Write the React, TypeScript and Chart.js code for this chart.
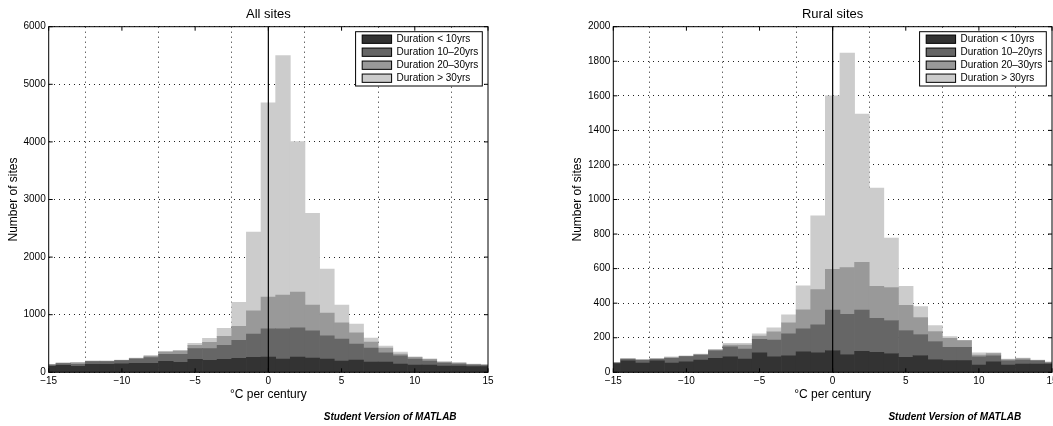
import React, { useEffect, useRef } from 'react';
import { Chart, registerables } from 'chart.js';

Chart.register(...registerables);

// ---------- data ----------
const bins = [-15, -14, -13, -12, -11, -10, -9, -8, -7, -6, -5, -4, -3, -2, -1, 0, 1, 2, 3, 4, 5, 6, 7, 8, 9, 10, 11, 12, 13, 14, 15];

const seriesLabels = ['Duration < 10yrs', 'Duration 10\u201320yrs', 'Duration 20\u201330yrs', 'Duration > 30yrs'];
const seriesColors = ['#333333', '#666666', '#999999', '#cccccc'];

// All sites (stacked segments)
const allUnder10 = [104, 121, 104, 139, 139, 145, 156, 156, 191, 173, 225, 208, 225, 243, 260, 266, 230, 264, 247, 230, 195, 213, 178, 178, 144, 126, 126, 109, 109, 98, 98];
const all10to20 = [21, 29, 35, 46, 46, 57, 75, 98, 121, 139, 185, 202, 243, 312, 404, 489, 525, 506, 473, 403, 383, 278, 244, 160, 142, 105, 69, 52, 35, 28, 23];
const all20to30 = [10, 8, 26, 7, 7, 6, 11, 23, 41, 58, 58, 110, 156, 243, 403, 551, 585, 623, 447, 396, 280, 194, 104, 84, 32, 29, 29, 17, 16, 12, 7];
const allOver30 = [4, 4, 8, 5, 5, 6, 7, 18, 11, 12, 35, 70, 139, 416, 1369, 3372, 4160, 2612, 1595, 761, 310, 153, 69, 34, 32, 10, 11, 2, 8, 6, 5];

// Rural sites (stacked segments)
const ruralUnder10 = [50, 66, 54, 66, 54, 60, 71, 81, 89, 77, 112, 89, 95, 118, 112, 126, 103, 121, 115, 109, 86, 97, 74, 68, 68, 42, 60, 42, 48, 48, 48];
const rural10to20 = [4, 9, 15, 9, 27, 31, 29, 43, 58, 58, 79, 98, 127, 133, 162, 234, 232, 239, 197, 191, 156, 122, 104, 76, 76, 47, 35, 24, 23, 18, 6];
const rural20to30 = [2, 3, 3, 3, 4, 2, 3, 4, 11, 23, 19, 47, 64, 110, 204, 236, 271, 276, 185, 191, 145, 98, 58, 52, 39, 11, 13, 8, 9, 3, 4];
const ruralOver30 = [2, 3, 3, 3, 4, 2, 3, 5, 10, 10, 12, 23, 46, 139, 427, 1004, 1242, 858, 569, 286, 110, 64, 35, 11, 1, 12, 4, 3, 3, 2, 2];

const xMin = -15;
const xMax = 15;
const xStep = 5;
const zeroValue = 0;

const allYMax = 6000;
const allYStep = 1000;
const ruralYMax = 2000;
const ruralYStep = 200;

const xTitle = '\u00B0C per century';
const yTitle = 'Number of sites';
const watermark = 'Student Version of MATLAB';

const FONT = '"Liberation Sans", Arial, Helvetica, sans-serif';

// ---------- plugin for MATLAB look ----------
const matlabPlugin = {
  id: 'matlabLook',
  afterDraw(chart: any) {
    const { ctx, chartArea: a, scales } = chart;
    const xs = scales.x;
    const ys = scales.y;
    ctx.save();
    // zero line
    const x0 = xs.getPixelForValue(zeroValue);
    ctx.strokeStyle = '#000';
    ctx.lineWidth = 1.2;
    ctx.beginPath();
    ctx.moveTo(x0, a.top);
    ctx.lineTo(x0, a.bottom);
    ctx.stroke();

    // axes box
    ctx.lineWidth = 1;
    ctx.strokeRect(a.left, a.top, a.right - a.left, a.bottom - a.top);

    // inner ticks
    const tl = 4;
    ctx.beginPath();
    xs.ticks.forEach((t: any) => {
      const p = xs.getPixelForValue(t.value);
      ctx.moveTo(p, a.bottom);
      ctx.lineTo(p, a.bottom - tl);
      ctx.moveTo(p, a.top);
      ctx.lineTo(p, a.top + tl);
    });
    ys.ticks.forEach((t: any) => {
      const p = ys.getPixelForValue(t.value);
      ctx.moveTo(a.left, p);
      ctx.lineTo(a.left + tl, p);
      ctx.moveTo(a.right, p);
      ctx.lineTo(a.right - tl, p);
    });
    ctx.stroke();

    // legend box
    ctx.font = `10px ${FONT}`;
    const dsets = chart.data.datasets;
    let maxW = 0;
    dsets.forEach((d: any) => {
      maxW = Math.max(maxW, ctx.measureText(d.label).width);
    });
    const padL = 6.6;
    const patchW = 29.4;
    const patchH = 8.3;
    const gap = 5;
    const boxW = padL + patchW + gap + maxW + 4;
    const rowH = 13;
    const boxH = 54.3;
    const bx = a.right - 5.7 - boxW;
    const by = a.top + 5;
    ctx.fillStyle = '#fff';
    ctx.fillRect(bx, by, boxW, boxH);
    ctx.strokeStyle = '#000';
    ctx.lineWidth = 1;
    ctx.strokeRect(bx, by, boxW, boxH);
    dsets.forEach((d: any, i: number) => {
      const cy = by + 7.5 + i * rowH;
      ctx.fillStyle = d.backgroundColor;
      ctx.fillRect(bx + padL, cy - patchH / 2, patchW, patchH);
      ctx.strokeStyle = '#000';
      ctx.strokeRect(bx + padL, cy - patchH / 2, patchW, patchH);
      ctx.fillStyle = '#000';
      ctx.textBaseline = 'middle';
      ctx.textAlign = 'left';
      ctx.fillText(d.label, bx + padL + patchW + gap, cy + 0.5);
    });

    // watermark
    ctx.font = `italic bold 10px ${FONT}`;
    ctx.fillStyle = '#000';
    ctx.textAlign = 'center';
    ctx.textBaseline = 'middle';
    ctx.fillText(watermark, a.left + 341.5, 417);
    ctx.restore();
  },
};

type HistProps = {
  title: string;
  series: number[][];
  yMax: number;
  yStep: number;
  left: number;
  axisWidth: number;
};

function Histogram({ title, series, yMax, yStep, left, axisWidth }: HistProps) {
  const ref = useRef<HTMLCanvasElement>(null);
  useEffect(() => {
    const canvas = ref.current!;
    const chart = new Chart(canvas, {
      type: 'bar',
      data: {
        labels: bins,
        datasets: series.map((s, i) => ({
          label: seriesLabels[i],
          data: s,
          backgroundColor: seriesColors[i],
          borderWidth: 0,
          barPercentage: 1,
          categoryPercentage: 1,
        })),
      },
      options: {
        animation: false,
        responsive: false,
        devicePixelRatio: 1,
        events: [],
        layout: { padding: { left: 0, right: 49, top: 0, bottom: 23.7 } },
        plugins: {
          legend: { display: false },
          tooltip: { enabled: false },
          title: {
            display: true,
            text: title,
            color: '#000',
            font: { family: FONT, size: 13, weight: 'normal' },
            padding: { top: 7, bottom: 4.1 },
            fullSize: false,
          },
        },
        scales: {
          x: {
            type: 'linear',
            min: xMin,
            max: xMax,
            offset: false,
            stacked: true,
            ticks: {
              stepSize: xStep,
              padding: 3,
              autoSkip: false,
              maxRotation: 0,
              color: '#000',
              font: { family: FONT, size: 10 },
              callback: (v: any) => String(v).replace('-', '\u2212'),
            },
            grid: { color: '#222', lineWidth: 1, drawTicks: false },
            border: { display: false, dash: [1, 4] },
            title: {
              display: true,
              text: xTitle,
              color: '#000',
              font: { family: FONT, size: 12 },
              padding: { top: 0, bottom: 0 },
            },
            afterFit: (s: any) => {
              s.height = 30;
            },
          },
          y: {
            stacked: true,
            min: 0,
            max: yMax,
            ticks: {
              stepSize: yStep,
              padding: 3,
              color: '#000',
              font: { family: FONT, size: 10 },
              callback: (v: any) => String(v),
            },
            grid: { color: '#222', lineWidth: 1, drawTicks: false },
            border: { display: false, dash: [1, 4] },
            title: {
              display: true,
              text: yTitle,
              color: '#000',
              font: { family: FONT, size: 12 },
              padding: { top: 6.8, bottom: 0 },
            },
            afterFit: (s: any) => {
              s.width = axisWidth;
            },
          },
        },
      } as any,
      plugins: [matlabPlugin],
    });
    return () => chart.destroy();
  }, []);
  return (
    <canvas
      ref={ref}
      width={537}
      height={426}
      style={{ position: 'absolute', left, top: 0, width: 537, height: 426 }}
    />
  );
}

export default function App() {
  return (
    <div
      style={{
        position: 'absolute',
        left: 0,
        top: 0,
        width: 1053,
        height: 426,
        overflow: 'hidden',
        background: '#fff',
      }}
    >
      <Histogram
        title="All sites"
        series={[allUnder10, all10to20, all20to30, allOver30]}
        yMax={allYMax}
        yStep={allYStep}
        left={0}
        axisWidth={48.7}
      />
      <Histogram
        title="Rural sites"
        series={[ruralUnder10, rural10to20, rural20to30, ruralOver30]}
        yMax={ruralYMax}
        yStep={ruralYStep}
        left={564}
        axisWidth={49.3}
      />
    </div>
  );
}
